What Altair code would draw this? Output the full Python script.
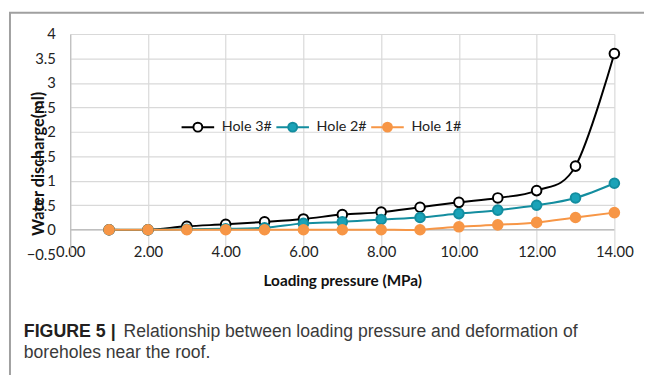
import altair as alt
import pandas as pd

# ---- data ----
pressure = [1, 2, 3, 4, 5, 6, 7, 8, 9, 10, 11, 12, 13, 14]
hole3 = [0, 0, 0.07, 0.11, 0.16, 0.22, 0.31, 0.36, 0.46, 0.56, 0.65, 0.80, 1.30, 3.60]
hole2 = [0, 0, 0.01, 0.02, 0.04, 0.13, 0.16, 0.21, 0.25, 0.33, 0.40, 0.50, 0.65, 0.95]
hole1 = [0, 0, 0, 0, 0, 0, 0, 0, 0, 0.06, 0.10, 0.15, 0.25, 0.35]
series_names = ["Hole 3#", "Hole 2#", "Hole 1#"]
x_ticks = [0, 2, 4, 6, 8, 10, 12, 14]
y_ticks = [-0.5, 0, 0.5, 1, 1.5, 2, 2.5, 3, 3.5, 4]
x_title = "Loading  pressure (MPa)"
y_title = "Water discharge(ml)"
caption_bold = "FIGURE 5 |"
caption_line1 = "Relationship between loading pressure and deformation of"
caption_line2 = "boreholes near the roof."

line_colors = ["#000000", "#138d9f", "#f79646"]
fill_colors = ["#ffffff", "#1aa3b8", "#f79646"]
line_widths = [2, 2, 1.2]

rows = []
for name, vals in zip(series_names, [hole3, hole2, hole1]):
    for p, v in zip(pressure, vals):
        rows.append({"pressure": p, "discharge": v, "series": name})
df = pd.DataFrame(rows)

FONT = "Lato"
W, H = 551, 223

legend_path = ("M-3.3,0L-0.9,0M0.9,0L3.3,0"
               "M-0.9,0A0.9,0.9,0,1,1,0.9,0A0.9,0.9,0,1,1,-0.9,0Z")
legend = alt.Legend(
    title=None, orient="none", direction="horizontal",
    legendX=122, legendY=87, symbolType=legend_path, symbolSize=100,
    symbolStrokeWidth=2, labelFont=FONT, labelFontSize=14.5, labelColor="#222",
    labelOffset=17, columnPadding=-1, padding=0,
)

x_scale = alt.Scale(domain=[0, 14], nice=False, zero=False)
y_scale = alt.Scale(domain=[-0.5, 4], nice=False, zero=False)

x_enc = alt.X(
    "pressure:Q", scale=x_scale,
    axis=alt.Axis(
        values=x_ticks, format=".2f", title=x_title, domain=False, ticks=False,
        tickSize=0, labelBaseline="middle", labelPadding=-3, labelFlush=False,
        labelFont=FONT, labelFontSize=15, labelColor="#222", titleFont=FONT,
        titleFontSize=15.5, titleFontWeight="bold", titleColor="#111",
        titleBaseline="middle", titleY=27, gridColor="#d9d9d9", gridWidth=1.2,
    ),
)
y_enc = alt.Y(
    "discharge:Q", scale=y_scale,
    axis=alt.Axis(
        values=y_ticks, format="~g", title=y_title, domainColor="#bfbfbf",
        domainWidth=1.2, ticks=False, tickSize=0, labelPadding=15,
        labelFlush=False, labelFont=FONT, labelFontSize=15, labelColor="#222",
        titleFont=FONT, titleFontSize=16.5, titleFontWeight="bold",
        titleColor="#111", titleAngle=270, titleAlign="center",
        titleBaseline="middle", titleX=-32, titleY=131,
        gridColor="#d9d9d9", gridWidth=1.2,
        gridOpacity={"condition": {"test": "datum.value < 0", "value": 0}, "value": 1},
    ),
)

stroke_enc = alt.Stroke(
    "series:N", scale=alt.Scale(domain=series_names, range=line_colors),
    legend=legend, sort=series_names,
)
fill_enc = alt.Fill(
    "series:N", scale=alt.Scale(domain=series_names, range=fill_colors),
    legend=legend, sort=series_names,
)

base = alt.Chart(df)

zero_rule = alt.Chart(pd.DataFrame({"discharge": [0]})).mark_rule(
    color="#bfbfbf", strokeWidth=1.5
).encode(y=y_enc)

lines = base.mark_line(interpolate="cardinal").encode(
    x=x_enc, y=y_enc, stroke=stroke_enc,
    strokeWidth=alt.StrokeWidth("series:N", scale=alt.Scale(domain=series_names, range=line_widths), legend=None),
)

points = base.mark_point(filled=False, size=95, strokeWidth=2, opacity=1, shape="circle").encode(
    x=x_enc, y=y_enc, stroke=stroke_enc, fill=fill_enc,
)

border = alt.Chart(pd.DataFrame({"a": [0]})).mark_rect(
    fill=None, filled=False, stroke="#a0a0a0", strokeWidth=2
).encode(x=alt.value(-61), x2=alt.value(650), y=alt.value(-21.5), y2=alt.value(500))

cap_df = pd.DataFrame({"a": [0]})
cap_bold = alt.Chart(cap_df).mark_text(
    text=caption_bold, font="Liberation Sans", fontSize=18, fontWeight="bold",
    color="#231f20", align="left", baseline="alphabetic"
).encode(x=alt.value(-47), y=alt.value(307))
cap_l1 = alt.Chart(cap_df).mark_text(
    text=caption_line1, font="Liberation Sans", fontSize=17.8,
    color="#3a3a3a", align="left", baseline="alphabetic"
).encode(x=alt.value(54), y=alt.value(307))
cap_l2 = alt.Chart(cap_df).mark_text(
    text=caption_line2, font="Liberation Sans", fontSize=17.8,
    color="#3a3a3a", align="left", baseline="alphabetic"
).encode(x=alt.value(-47), y=alt.value(328.5))

chart = alt.layer(
    border, zero_rule, lines, points, cap_bold, cap_l1, cap_l2
).properties(
    width=W, height=H,
    autosize=alt.AutoSizeParams(type="none"),
    padding={"left": 63, "top": 24, "right": 30, "bottom": 120},
    background="white",
).configure_view(stroke=None)

chart.save("out.html", embed_options={"renderer": "svg", "actions": False})
